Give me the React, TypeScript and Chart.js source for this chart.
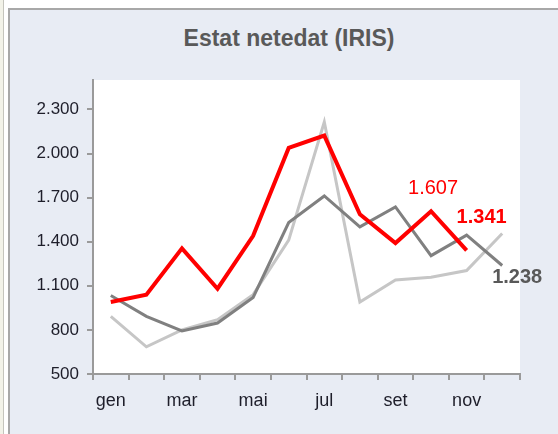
import React, { useEffect, useRef } from "react";
import { Chart, registerables } from "chart.js";

Chart.register(...registerables);

const months = ["gen", "feb", "mar", "abr", "mai", "jun", "jul", "ago", "set", "oct", "nov", "des"];
const serieActual = [990, 1040, 1355, 1080, 1440, 2038, 2122, 1587, 1391, 1607, 1341, null];
const serieAnterior = [1034, 892, 793, 847, 1021, 1530, 1711, 1501, 1637, 1305, 1445, 1238];
const serieAntiga = [892, 685, 800, 870, 1040, 1411, 2214, 989, 1140, 1158, 1204, 1456];
const yTicks = [500, 800, 1100, 1400, 1700, 2000, 2300];

const FONT = '"Liberation Sans", Arial, sans-serif';

function fmt(v: number): string {
  return String(v).replace(/\B(?=(\d{3})+(?!\d))/g, ".");
}

export default function App() {
  const ref = useRef<HTMLCanvasElement | null>(null);

  useEffect(() => {
    if (!ref.current) return;
    const bgPlugin = {
      id: "plotBg",
      beforeDraw(chart: any) {
        const { ctx, chartArea } = chart;
        ctx.save();
        ctx.fillStyle = "#ffffff";
        ctx.fillRect(chartArea.left, chartArea.top, chartArea.right - chartArea.left, chartArea.bottom - chartArea.top);
        ctx.restore();
      },
    };
    const labelPlugin = {
      id: "valueLabels",
      afterDatasetsDraw(chart: any) {
        const ctx = chart.ctx;
        const items = [
          { ds: 0, idx: 9, dx: 2, dy: -23, color: "#ff0000", bold: false, value: serieActual[9] },
          { ds: 0, idx: 10, dx: 15, dy: -33, color: "#ff0000", bold: true, value: serieActual[10] },
          { ds: 1, idx: 11, dx: 15, dy: 12, color: "#595959", bold: true, value: serieAnterior[11] },
        ];
        ctx.save();
        ctx.textAlign = "center";
        ctx.textBaseline = "middle";
        for (const it of items) {
          const p = chart.getDatasetMeta(it.ds).data[it.idx];
          if (!p || it.value == null) continue;
          ctx.fillStyle = it.color;
          ctx.font = `${it.bold ? "bold " : ""}20px ${FONT}`;
          ctx.fillText(fmt(it.value as number), p.x + it.dx, p.y + it.dy);
        }
        ctx.restore();
      },
    };

    const chart = new Chart(ref.current, {
      type: "line",
      data: {
        labels: months,
        datasets: [
          {
            label: "actual",
            data: serieActual,
            borderColor: "#ff0000",
            borderWidth: 4,
            pointRadius: 0,
            tension: 0,
            borderJoinStyle: "miter",
            spanGaps: false,
          },
          {
            label: "anterior",
            data: serieAnterior,
            borderColor: "#808080",
            borderWidth: 3,
            pointRadius: 0,
            tension: 0,
            borderJoinStyle: "miter",
          },
          {
            label: "antiga",
            data: serieAntiga,
            borderColor: "#c6c6c6",
            borderWidth: 3,
            pointRadius: 0,
            tension: 0,
            borderJoinStyle: "miter",
          },
        ],
      },
      options: {
        animation: false,
        responsive: false,
        maintainAspectRatio: false,
        layout: { padding: { top: 80, right: 38, bottom: 0, left: 0 } },
        plugins: {
          legend: { display: false },
          tooltip: { enabled: false },
          title: { display: false },
        },
        scales: {
          x: {
            type: "category",
            offset: true,
            afterFit(s: any) {
              s.height = 60;
            },
            grid: {
              offset: true,
              drawOnChartArea: false,
              drawTicks: true,
              tickLength: 6,
              color: "#9a9a9a",
              lineWidth: 2,
            },
            border: { display: true, color: "#9a9a9a", width: 2 },
            ticks: {
              autoSkip: false,
              maxRotation: 0,
              minRotation: 0,
              padding: 10,
              color: "#1e1e2a",
              font: { family: FONT, size: 18 },
              callback: (_v: any, i: number) => (i % 2 === 0 ? months[i] : ""),
            },
          },
          y: {
            min: 500,
            max: 2500,
            afterFit(s: any) {
              s.width = 93;
            },
            afterBuildTicks(s: any) {
              s.ticks = yTicks.map((v) => ({ value: v }));
            },
            grid: {
              drawOnChartArea: false,
              drawTicks: true,
              tickLength: 6,
              color: "#9a9a9a",
              lineWidth: 2,
            },
            border: { display: true, color: "#9a9a9a", width: 2 },
            ticks: {
              padding: 8,
              color: "#1e1e2a",
              font: { family: FONT, size: 17 },
              callback: (v: any) => fmt(Number(v)),
            },
          },
        },
      },
      plugins: [bgPlugin, labelPlugin],
    } as any);
    return () => chart.destroy();
  }, []);

  return (
    <div style={{ position: "absolute", left: 0, top: 0, width: 558, height: 434, background: "#ffffff", overflow: "hidden" }}>
      <div style={{ position: "absolute", left: 0, top: 0, width: 3, height: 434, background: "#f2f2e8" }} />
      <div style={{ position: "absolute", left: 3, top: 0, width: 1, height: 434, background: "#c4c4bc" }} />
      <div
        style={{
          position: "absolute",
          left: 8,
          top: 8,
          width: 550,
          height: 426,
          boxSizing: "border-box",
          borderLeft: "2px solid #a8a8a8",
          borderTop: "2px solid #a8a8a8",
          background: "#e8ecf4",
        }}
      />
      <div
        style={{
          position: "absolute",
          left: 0,
          top: 26,
          width: 578,
          textAlign: "center",
          fontFamily: FONT,
          fontWeight: "bold",
          fontSize: 23,
          lineHeight: "24px",
          color: "#595959",
        }}
      >
        Estat netedat (IRIS)
      </div>
      <canvas ref={ref} width={558} height={434} style={{ position: "absolute", left: 0, top: 0, width: 558, height: 434 }} />
    </div>
  );
}
